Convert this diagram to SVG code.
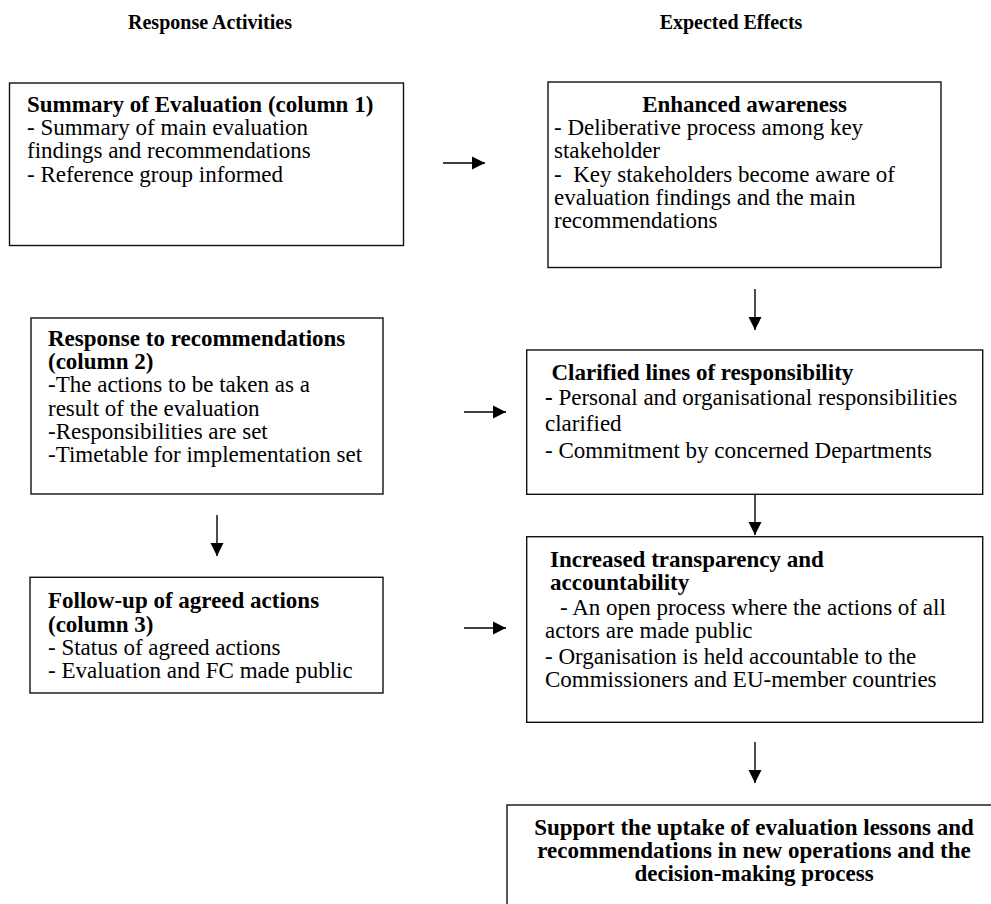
<svg xmlns="http://www.w3.org/2000/svg" width="991" height="904" viewBox="0 0 991 904">
<defs>
<marker id="ah" markerUnits="userSpaceOnUse" markerWidth="14" markerHeight="14" viewBox="0 0 14 14" refX="13" refY="7" orient="auto">
<path d="M0,0.5 L13,7 L0,13.5 Z" fill="#000"/>
</marker>
</defs>
<style>
.box{fill:#fff;stroke:#111;stroke-width:1.4}
.t{font-family:"Liberation Serif","Times New Roman",serif;font-size:23px;fill:#000}
.b{font-weight:bold}
.h{font-family:"Liberation Serif","Times New Roman",serif;font-size:20px;font-weight:bold;fill:#000}
.c{stroke:#000;stroke-width:1.4;fill:none;marker-end:url(#ah)}
</style>
<rect width="991" height="904" fill="#fff"/>
<g id="headers">
<text class="h" x="210" y="29" text-anchor="middle">Response Activities</text>
<text class="h" x="731" y="29" text-anchor="middle">Expected Effects</text>
</g>
<g id="connectors">
<line class="c" x1="443" y1="163" x2="485" y2="163"/>
<line class="c" x1="464" y1="412" x2="506" y2="412"/>
<line class="c" x1="464" y1="628" x2="506" y2="628"/>
<line class="c" x1="217" y1="515" x2="217" y2="556"/>
<line class="c" x1="755" y1="289" x2="755" y2="330"/>
<line class="c" x1="755" y1="494" x2="755" y2="535"/>
<line class="c" x1="755" y1="742" x2="755" y2="783"/>
</g>
<g id="summary">
<rect class="box" x="9.5" y="83" width="394" height="162.5"/>
<text class="t" x="27" y="111.7"><tspan class="b">Summary of Evaluation (column 1)</tspan><tspan x="27" y="135">- Summary of main evaluation</tspan><tspan x="27" y="158.3">findings and recommendations</tspan><tspan x="27" y="181.7">- Reference group informed</tspan></text>
</g>
<g id="awareness">
<rect class="box" x="548" y="82" width="393" height="185.5"/>
<text class="t" x="744.5" y="111.7" text-anchor="middle" font-weight="bold">Enhanced awareness</text>
<text class="t" x="554" y="135">- Deliberative process among key<tspan x="554" y="158.3">stakeholder</tspan><tspan x="554" y="181.7" xml:space="preserve">-  Key stakeholders become aware of</tspan><tspan x="554" y="205">evaluation findings and the main</tspan><tspan x="554" y="228.3">recommendations</tspan></text>
</g>
<g id="response">
<rect class="box" x="31" y="318" width="352" height="176"/>
<text class="t" x="48" y="345.7"><tspan class="b">Response to recommendations</tspan><tspan class="b" x="48" y="369">(column 2)</tspan><tspan x="48" y="392.3">-The actions to be taken as a</tspan><tspan x="48" y="415.7">result of the evaluation</tspan><tspan x="48" y="439">-Responsibilities are set</tspan><tspan x="48" y="462.3">-Timetable for implementation set</tspan></text>
</g>
<g id="followup">
<rect class="box" x="30" y="577.3" width="353" height="115.7"/>
<text class="t" x="48" y="608.3"><tspan class="b">Follow-up of agreed actions</tspan><tspan class="b" x="48" y="631.7">(column 3)</tspan><tspan x="48" y="655">- Status of agreed actions</tspan><tspan x="48" y="678.3">- Evaluation and FC made public</tspan></text>
</g>
<g id="clarified">
<rect class="box" x="526.7" y="350" width="456" height="144.3"/>
<text class="t b" x="551.5" y="380">Clarified lines of responsibility</text>
<text class="t" x="545" y="405"><tspan font-weight="bold">-</tspan> Personal and organisational responsibilities<tspan x="545" y="430.5">clarified</tspan><tspan x="545" y="458">- Commitment by concerned Departments</tspan></text>
</g>
<g id="transparency">
<rect class="box" x="526.7" y="536.7" width="456" height="185.6"/>
<text class="t b" x="550" y="567.3">Increased transparency and<tspan x="550" y="590">accountability</tspan></text>
<text class="t" x="560" y="615">- An open process where the actions of all<tspan x="545" y="638.3">actors are made public</tspan><tspan x="545" y="664.3">- Organisation is held accountable to the</tspan><tspan x="545" y="687.3">Commissioners and EU-member countries</tspan></text>
</g>
<g id="uptake">
<rect class="box" x="507" y="805" width="494" height="110"/>
<text class="t b" x="754" y="834.5" text-anchor="middle">Support the uptake of evaluation lessons and<tspan x="754" y="857.5">recommendations in new operations and the</tspan><tspan x="754" y="880.5">decision-making process</tspan></text>
</g>
</svg>
